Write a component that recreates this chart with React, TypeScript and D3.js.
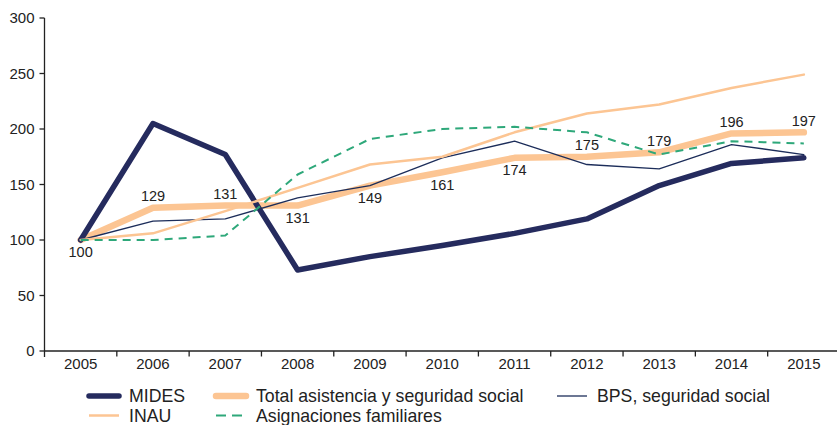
import React from "react";
import * as d3 from "d3";

const years = ["2005","2006","2007","2008","2009","2010","2011","2012","2013","2014","2015"];
const mides = [100, 205, 177, 73, 85, 95, 106, 119, 149, 169, 174];
const total = [100, 129, 131, 131, 149, 161, 174, 175, 179, 196, 197];
const bps = [100, 117, 119, 138, 149, 174, 189, 168, 164, 186, 177];
const inau = [100, 106, 126, 147, 168, 175, 197, 214, 222, 237, 249];
const asignaciones = [100, 100, 104, 159, 191, 200, 202, 197, 177, 189, 187];
const totalLabelSide = ["below","above","above","below","below","below","below","above","above","above","above"];
const yTicks = [0, 50, 100, 150, 200, 250, 300];

const W = 837, H = 425;
const FONT = "'Liberation Sans', Arial, sans-serif";

export default function App() {
  const x = d3.scaleBand<string>().domain(years).range([44.5, 840]).padding(0);
  const y = d3.scaleLinear().domain([0, 300]).range([351, 18]);
  const cx = (yr: string) => (x(yr) as number) + x.bandwidth() / 2;
  const line = (vals: number[]) =>
    d3.line<number>().x((_, i) => cx(years[i])).y((v) => y(v))(vals) as string;

  const series = [
    { name: "Total asistencia y seguridad social", vals: total, color: "#fcc593", w: 6.5, dash: undefined },
    { name: "MIDES", vals: mides, color: "#252b5e", w: 5.5, dash: undefined },
    { name: "BPS, seguridad social", vals: bps, color: "#1c2d5a", w: 1.3, dash: undefined },
    { name: "INAU", vals: inau, color: "#fcc593", w: 2.5, dash: undefined },
    { name: "Asignaciones familiares", vals: asignaciones, color: "#2ea87a", w: 2, dash: "8,6" },
  ];
  const byName = (n: string) => series.find((s) => s.name === n)!;

  const legendItems = [
    { name: "MIDES", x: 87, y: 396 },
    { name: "Total asistencia y seguridad social", x: 214, y: 396 },
    { name: "BPS, seguridad social", x: 555, y: 396 },
    { name: "INAU", x: 87, y: 415.5 },
    { name: "Asignaciones familiares", x: 214, y: 415.5 },
  ];

  const x0 = 44.5;
  return (
    <svg width={W} height={H} style={{ position: "absolute", left: 0, top: 0 }} fontFamily={FONT}>
      {/* y axis */}
      <line x1={x0} x2={x0} y1={y(300)} y2={y(0) + 6} stroke="#222" strokeWidth={1.3} />
      {yTicks.map((t) => (
        <g key={t}>
          <line x1={x0 - 5} x2={x0} y1={y(t)} y2={y(t)} stroke="#222" strokeWidth={1.3} />
          <text x={34.5} y={y(t)} dy="0.36em" textAnchor="end" fontSize={15} fill="#222">{t}</text>
        </g>
      ))}
      {/* x axis */}
      <line x1={x0} x2={W} y1={y(0)} y2={y(0)} stroke="#222" strokeWidth={1.3} />
      {years.slice(1).map((yr) => (
        <line key={yr} x1={x(yr) as number} x2={x(yr) as number} y1={y(0)} y2={y(0) + 5.5} stroke="#222" strokeWidth={1.3} />
      ))}
      {years.map((yr) => (
        <text key={yr} x={cx(yr)} y={368.5} textAnchor="middle" fontSize={15} fill="#222">{yr}</text>
      ))}
      {/* lines */}
      {series.map((s) => (
        <path key={s.name} d={line(s.vals)} fill="none" stroke={s.color} strokeWidth={s.w}
          strokeDasharray={s.dash} strokeLinejoin="round" strokeLinecap={s.dash ? "butt" : "round"} />
      ))}
      {/* total labels */}
      {total.map((v, i) => (
        <text key={i} x={cx(years[i])} y={y(v) + (totalLabelSide[i] === "above" ? -12 : 12)} dy="0.36em"
          textAnchor="middle" fontSize={14.5} fill="#222">{v}</text>
      ))}
      {/* legend */}
      {legendItems.map((li) => {
        const s = byName(li.name);
        return (
          <g key={li.name}>
            <line x1={li.x + 2} x2={li.x + 32} y1={li.y} y2={li.y} stroke={s.color} strokeWidth={s.w}
              strokeDasharray={s.dash ? "10,6" : undefined} strokeLinecap={s.dash ? "butt" : s.w > 3 ? "round" : "butt"} />
            <text x={li.x + 42} y={li.y + 6.3} fontSize={17.7} fill="#222">{li.name}</text>
          </g>
        );
      })}
    </svg>
  );
}
